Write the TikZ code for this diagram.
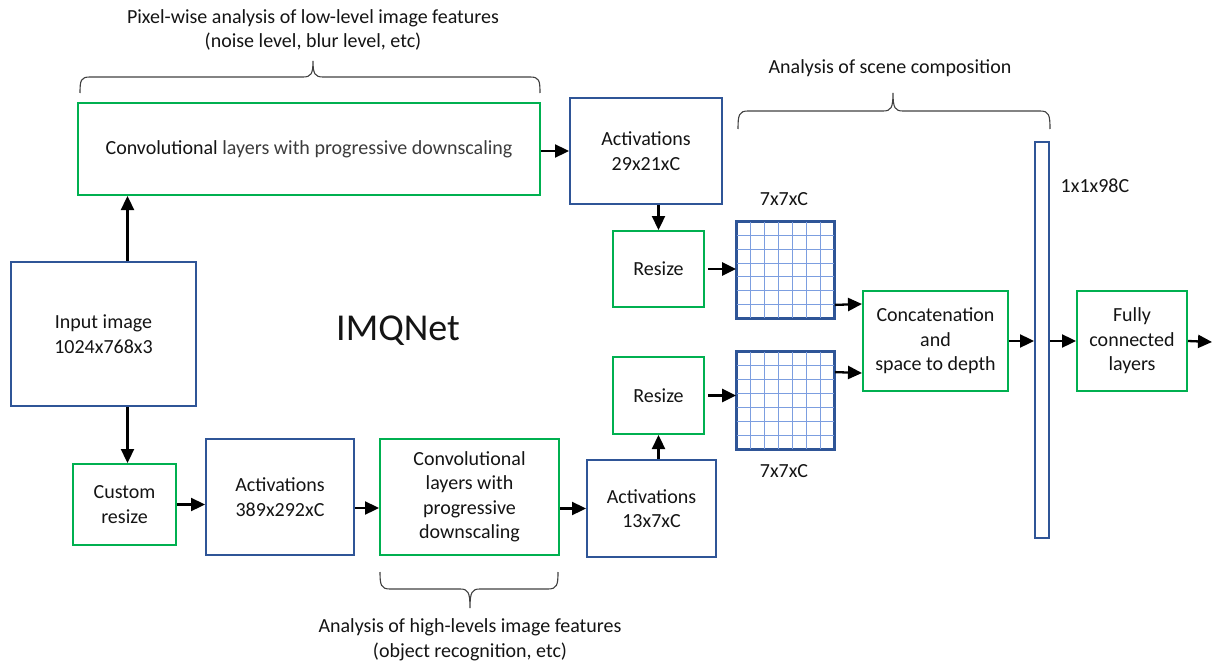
\documentclass[tikz,border=0pt]{standalone}
\usepackage{fontspec}
\setmainfont{Carlito}
\usetikzlibrary{arrows.meta,calc}
\definecolor{bblue}{HTML}{2F5597}
\definecolor{ggreen}{HTML}{00B050}
\definecolor{lblue}{HTML}{7C9EE0}
\definecolor{txt}{HTML}{141414}
\definecolor{gtxt}{HTML}{3C3C3C}
\tikzset{
  base/.style={draw, line width=2pt, align=center, inner sep=0pt, text=txt,
    font=\fontsize{20}{24.5}\selectfont},
  bbox/.style={base, draw=bblue},
  gbox/.style={base, draw=ggreen},
  gridbox/.style={draw=bblue, line width=1.8pt, inner sep=0pt},
  gridline/.style={draw=lblue, line width=1pt},
  arr/.style={-{Triangle[length=14pt,width=13pt]}, line width=2.3pt, black},
  brace/.style={draw=black!75, line width=1.1pt},
  lbl/.style={text=txt, align=center, font=\fontsize{20}{24.5}\selectfont, inner sep=0pt}
}
\begin{document}
\begin{tikzpicture}[x=1pt,y=-1pt]
\useasboundingbox (0,0) rectangle (1212,663);

% nodes
\node[gbox, minimum width=462pt, minimum height=92pt] (conv1) at (309,149)
  {Convolutional {\color{gtxt}layers with progressive downscaling}};
\node[bbox, minimum width=152pt, minimum height=106pt] (act1) at (646,151) {Activations\\29x21xC};
\node[gbox, minimum width=91pt, minimum height=76pt] (resize1) at (658.5,269) {Resize};
\node[gridbox, minimum width=97pt, minimum height=96pt] (g1) at (785.5,270) {};
\node[gridbox, minimum width=97pt, minimum height=97pt] (g2) at (785.5,400.5) {};
\node[gbox, minimum width=91pt, minimum height=77pt] (resize2) at (658.5,395.5) {Resize};
\node[bbox, minimum width=129pt, minimum height=97pt] (act3) at (651.5,508.5) {Activations\\13x7xC};
\node[gbox, minimum width=179pt, minimum height=116pt] (conv2) at (469.5,497) {Convolutional\\layers with\\progressive\\downscaling};
\node[bbox, minimum width=148pt, minimum height=116pt] (act2) at (280,497) {Activations\\389x292xC};
\node[gbox, minimum width=103pt, minimum height=81pt] (custom) at (124.5,504.5) {Custom\\resize};
\node[bbox, minimum width=185pt, minimum height=144pt] (input) at (103.5,334) {Input image\\1024x768x3};
\node[gbox, minimum width=145pt, minimum height=100pt] (concat) at (935.5,341) {Concatenation\\and\\space to depth};
\node[bbox, minimum width=14pt, minimum height=396pt] (bar) at (1042,340) {};
\node[gbox, minimum width=110pt, minimum height=100pt] (fc) at (1132,341) {Fully\\connected\\layers};
\coordinate (out) at (1212,342);

% grids
\foreach \g in {g1,g2}{
  \foreach \i in {1,...,6}{
    \draw[gridline] ($(\g.north west)!\i/7!(\g.north east)$) -- ($(\g.south west)!\i/7!(\g.south east)$);
    \draw[gridline] ($(\g.north west)!\i/7!(\g.south west)$) -- ($(\g.north east)!\i/7!(\g.south east)$);
  }
  \draw[draw=bblue, line width=1.8pt] (\g.north west) rectangle (\g.south east);
}

% labels
\node[lbl] (l7a) at (784,199) {7x7xC};
\node[lbl] (l7b) at (784,471) {7x7xC};
\node[lbl] (l98) at (1095,186) {1x1x98C};
\node[text=txt, inner sep=0pt, font=\fontsize{38}{42}\selectfont] (imq) at (398,331) {IMQNet};
\node[lbl] (ltop) at (313,30) {Pixel-wise analysis of low-level image features\\(noise level, blur level, etc)};
\node[lbl] (lscene) at (890,68) {Analysis of scene composition};
\node[lbl] (lbot) at (470,640) {Analysis of high-levels image features\\(object recognition, etc)};

% braces
\draw[brace] (80,93) .. controls (80,80) and (81,77) .. (90,77) -- (303,77)
  .. controls (311,77) and (313,74) .. (313,61) .. controls (313,74) and (315,77) .. (323,77)
  -- (530,77) .. controls (539,77) and (540,80) .. (540,93);
\draw[brace] (738,129) .. controls (738,115) and (739,111) .. (748,111) -- (883,111)
  .. controls (891,111) and (893,108) .. (893,93) .. controls (893,108) and (895,111) .. (903,111)
  -- (1040,111) .. controls (1049,111) and (1050,115) .. (1050,129);
\draw[brace] (380,572) .. controls (380,585) and (381,589) .. (390,589) -- (460,589)
  .. controls (468,589) and (470,592) .. (470,608) .. controls (470,592) and (472,589) .. (480,589)
  -- (548,589) .. controls (557,589) and (558,585) .. (558,572);

% arrows
\draw[arr] (conv1.east |- act1.west) -- (act1.west);
\draw[arr] (resize1.north |- act1.south) -- (resize1.north);
\draw[arr, shorten <=3pt] (resize1.east) -- (resize1.east -| g1.west);
\draw[arr] ([yshift=14pt]g1.south east) -- ([yshift=37pt]concat.west);
\draw[arr] ([yshift=-21pt]g2.north east) -- ([yshift=-32pt]concat.west);
\draw[arr, shorten <=3pt] (resize2.east) -- (resize2.east -| g2.west);
\draw[arr] (resize2.south |- act3.north) -- (resize2.south);
\draw[arr] (act3.west -| conv2.east) -- (act3.west);
\draw[arr] ([yshift=-11pt]act2.east) -- ([yshift=-11pt]conv2.west);
\draw[arr] (custom.east) -- (custom.east -| act2.west);
\draw[arr] ([xshift=24pt]input.north) -- ([xshift=24pt]input.north |- conv1.south);
\draw[arr] ([xshift=24pt]input.south) -- ([xshift=24pt]input.south |- custom.north);
\draw[arr] (concat.east) -- (concat.east -| bar.west);
\draw[arr] (bar.east |- fc.west) -- (fc.west);
\draw[arr] (fc.east) -- (out);
\end{tikzpicture}
\end{document}
